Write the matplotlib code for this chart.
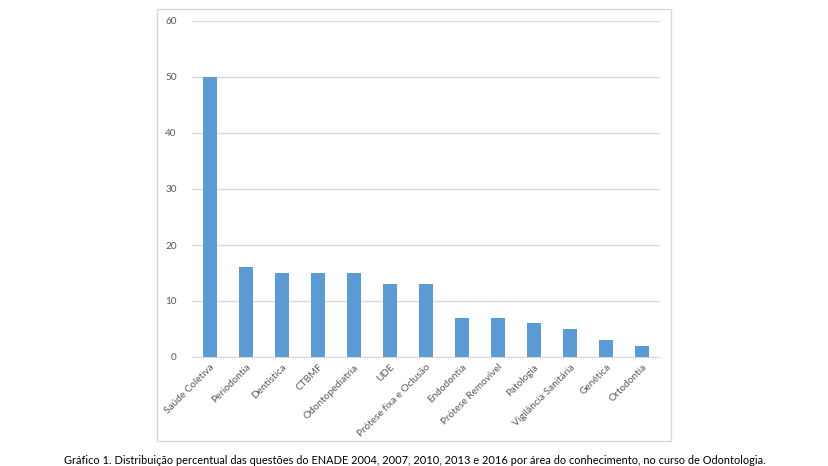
import matplotlib
matplotlib.use('Agg')
import matplotlib.pyplot as plt
from matplotlib.patches import Rectangle

plt.rcParams['font.family'] = ['Lato', 'DejaVu Sans']

areas = ['Saúde Coletiva', 'Periodontia', 'Dentística', 'CTBMF', 'Odontopediatria',
         'UDE', 'Prótese fixa e Oclusão', 'Endodontia', 'Prótese Removível',
         'Patologia', 'Vigilância Sanitária', 'Genética', 'Ortodontia']
percent = [50, 16, 15, 15, 15, 13, 13, 7, 7, 6, 5, 3, 2]
yticks = [0, 10, 20, 30, 40, 50, 60]

caption = ('Gráfico 1. Distribuição percentual das questões do ENADE 2004, 2007, 2010, 2013 e 2016 '
           'por área do conhecimento, no curso de Odontologia.')

fig = plt.figure(figsize=(8.29, 4.66), dpi=100)

# outer chart frame (like the excel chart box)
fig.patches.append(Rectangle((157 / 829, 1 - 441 / 466), 514 / 829, 432 / 466,
                             transform=fig.transFigure, fill=False,
                             edgecolor='#d9d9d9', linewidth=1.0))

ax = fig.add_axes([192 / 829, 1 - 357 / 466, 468 / 829, 336 / 466])
x = range(len(areas))
ax.bar(x, percent, width=0.39, color='#5b9bd5', zorder=3)

ax.set_xlim(-0.5, len(areas) - 0.5)
ax.set_ylim(0, 60)
ax.set_yticks(yticks)
ax.yaxis.grid(True, color='#d9d9d9', linewidth=1.0, zorder=0)
ax.set_xticks(list(x))
ax.set_xticklabels(areas, rotation=45, ha='right', rotation_mode='anchor',
                   fontsize=7.2, color='#595959')
ax.tick_params(axis='y', labelsize=7.2, labelcolor='#595959', length=0, pad=11)
ax.tick_params(axis='x', length=0, pad=4)
for s in ['top', 'right', 'left']:
    ax.spines[s].set_visible(False)
ax.spines['bottom'].set_color('#d9d9d9')

fig.text(415 / 829, 1 - 461 / 466, caption, ha='center', va='center',
         fontsize=7.9, color='black')

fig.savefig('out.png', dpi=100)
